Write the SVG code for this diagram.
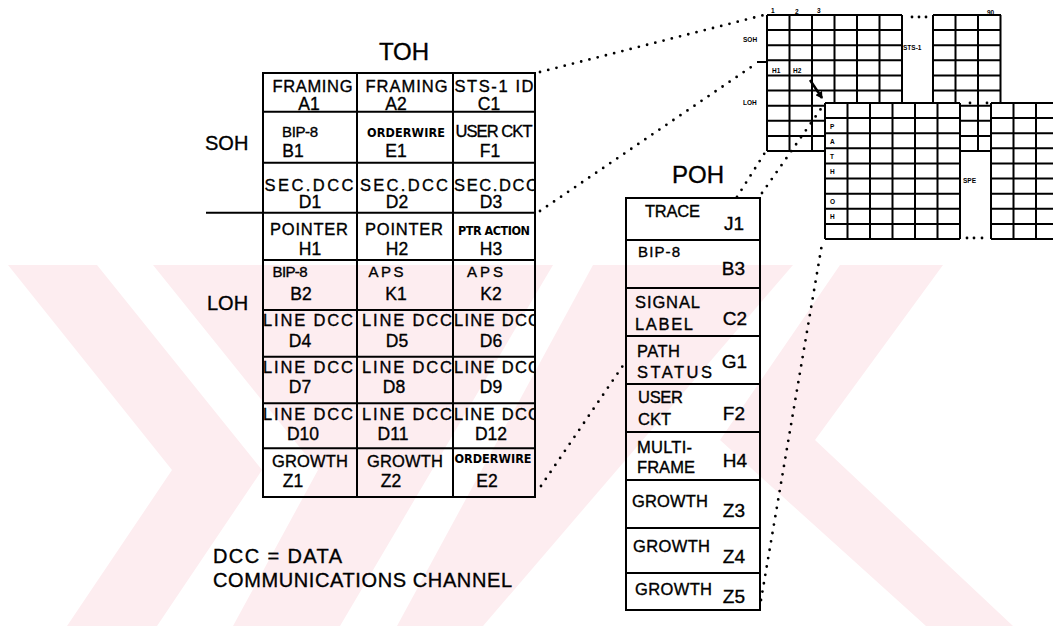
<svg xmlns="http://www.w3.org/2000/svg" xmlns:xlink="http://www.w3.org/1999/xlink" width="1053" height="626" viewBox="0 0 1053 626">
<defs>
<style>
.t{font-family:"Liberation Sans",Arial,sans-serif;fill:#000;stroke:#000;stroke-width:0.35}
.lb{font-size:16.5px}
.sm{font-size:15px}
.id{font-size:17.5px;text-anchor:middle}
.c{text-anchor:middle}
.e{text-anchor:end}
.pid{font-size:19px}
.cb{font-family:"DejaVu Sans Condensed","Liberation Sans",sans-serif;font-weight:bold;font-size:12.5px;text-anchor:middle;fill:#000}
.big{font-size:24px}
.mid{font-size:20px}
.grid{fill:none;stroke:#000;stroke-width:2}
.dot{fill:none;stroke:#000;stroke-width:2.8;stroke-linecap:round;stroke-dasharray:0 8.5}
.wm{fill:#fdedf0}
.mini{font-family:"Liberation Sans",Arial,sans-serif;font-weight:bold;font-size:6.5px;fill:#000}
</style>
<clipPath id="tohclip"><rect x="263" y="73" width="272" height="424"/></clipPath>
<g id="fr">
<rect x="0" y="0" width="135" height="136" fill="#fff"/>
<rect x="166" y="0" width="68" height="136" fill="#fff"/>
<path class="grid" d="M0 0H135M0 15.1H135M0 30.2H135M0 45.3H135M0 60.4H135M0 75.6H135M0 90.7H135M0 105.8H135M0 120.9H135M0 136H135M0 0V136M22.5 0V136M45 0V136M67.5 0V136M90 0V136M112.5 0V136M135 0V136M166 0H234M166 15.1H234M166 30.2H234M166 45.3H234M166 60.4H234M166 75.6H234M166 90.7H234M166 105.8H234M166 120.9H234M166 136H234M166 0V136M188.5 0V136M211 0V136M233.5 0V136"/>
</g>
<marker id="ah" markerWidth="8" markerHeight="8" refX="6" refY="4" orient="auto" markerUnits="userSpaceOnUse"><path d="M0 0L7 4L0 8Z" fill="#000"/></marker>
</defs>
<rect width="1053" height="626" fill="#fff"/>
<g id="watermark">
<polygon class="wm" points="8,265 97,265 262,470 157,626 67,626 172,470"/>
<polygon class="wm" points="153,265 553,265 340,626 233,626 318,470"/>
<polygon class="wm" points="397,626 483,626 793,265 593,265"/>
<polygon class="wm" points="840,265 943,265 815,440 1013,626 926,626 720,440"/>
</g>
<g id="mini">
<use xlink:href="#fr" x="767" y="15"/>
<circle cx="912" cy="17" r="1.4"/><circle cx="919" cy="17" r="1.4"/><circle cx="926" cy="17" r="1.4"/>
<text class="mini" x="903" y="50">STS-1</text>
<text class="mini" x="771" y="13">1</text>
<text class="mini" x="795" y="14">2</text>
<text class="mini" x="817" y="13">3</text>
<text class="mini" x="987" y="15">90</text>
<text class="mini" x="743" y="42">SOH</text>
<text class="mini" x="743" y="105">LOH</text>
<text class="mini" x="772" y="73">H1</text>
<text class="mini" x="793" y="73">H2</text>
<line x1="757" y1="62" x2="767" y2="62" stroke="#000" stroke-width="2"/>
<use xlink:href="#fr" x="825" y="103"/>
<line x1="810" y1="80" x2="822" y2="98" stroke="#000" stroke-width="2.5" marker-end="url(#ah)"/>
<text class="mini" x="830" y="129">P</text>
<text class="mini" x="830" y="144">A</text>
<text class="mini" x="830" y="159">T</text>
<text class="mini" x="830" y="174">H</text>
<text class="mini" x="830" y="204">O</text>
<text class="mini" x="830" y="219">H</text>
<text class="mini" x="963" y="183">SPE</text>
<circle cx="970" cy="103" r="1.4"/><circle cx="987" cy="103" r="1.4"/>
<circle cx="967" cy="238" r="1.4"/><circle cx="974" cy="238" r="1.4"/><circle cx="982" cy="238" r="1.4"/>
</g>
<g id="connectors">
<path class="dot" d="M540 72L764 15"/>
<path class="dot" d="M540 211L757 63"/>
<path class="dot" d="M541 486L624 364"/>
<path class="dot" d="M737 197L766 151"/>
<path class="dot" d="M762 193L825 103"/>
<path class="dot" d="M761 600L822 244"/>
</g>
<g id="labels">
<text class="t big c" x="404" y="60">TOH</text>
<text class="t mid" x="205" y="150">SOH</text>
<text class="t mid" x="207" y="310">LOH</text>
<line x1="206" y1="212.7" x2="263" y2="212.7" stroke="#000" stroke-width="2"/>
<text class="t big c" x="698" y="183">POH</text>
<text class="t mid" x="213" y="563" textLength="129">DCC = DATA</text>
<text class="t mid" x="213" y="587" textLength="299">COMMUNICATIONS CHANNEL</text>
</g>
<g id="toh">
<path class="grid" d="M263 73H535V497H263ZM357 73V497M453 73V497M263 111.7H535M263 162.7H535M263 212.7H535M263 260H535M263 310H535M263 356.7H535M263 403.3H535M263 448.3H535"/>
<g clip-path="url(#tohclip)">
<text class="t lb c" x="312.5" y="92" textLength="80">FRAMING</text>
<text class="t lb c" x="406.5" y="92" textLength="82">FRAMING</text>
<text class="t lb c" x="494" y="92" textLength="79">STS-1 ID</text>
<text class="t id" x="309" y="110">A1</text><text class="t id" x="396" y="110">A2</text><text class="t id" x="489" y="110">C1</text>
<text class="t sm c" x="300" y="137" textLength="36">BIP-8</text>
<text class="cb" x="406" y="137" textLength="78">ORDERWIRE</text>
<text class="t lb c" x="494" y="137" textLength="77">USER CKT</text>
<text class="t id" x="293" y="157">B1</text><text class="t id" x="396" y="157">E1</text><text class="t id" x="490" y="157">F1</text>
<text class="t lb c" x="309" y="191" textLength="89">SEC.DCC</text>
<text class="t lb c" x="404" y="191" textLength="88">SEC.DCC</text>
<text class="t lb c" x="496" y="191" textLength="84">SEC.DCC</text>
<text class="t id" x="310" y="208">D1</text><text class="t id" x="397" y="208">D2</text><text class="t id" x="491" y="208">D3</text>
<text class="t lb c" x="309" y="235" textLength="78">POINTER</text>
<text class="t lb c" x="404" y="235" textLength="78">POINTER</text>
<text class="cb" x="494" y="235" textLength="72">PTR ACTION</text>
<text class="t id" x="310" y="255">H1</text><text class="t id" x="397" y="255">H2</text><text class="t id" x="491" y="255">H3</text>
<text class="t sm c" x="290" y="277" textLength="35">BIP-8</text>
<text class="t sm c" x="386" y="277" textLength="35">APS</text>
<text class="t sm c" x="485" y="277" textLength="36">APS</text>
<text class="t id" x="301" y="300">B2</text><text class="t id" x="396" y="300">K1</text><text class="t id" x="491" y="300">K2</text>
<text class="t lb c" x="308" y="326" textLength="90">LINE DCC</text>
<text class="t lb c" x="407" y="326" textLength="90">LINE DCC</text>
<text class="t lb c" x="497" y="326" textLength="86">LINE DCC</text>
<text class="t id" x="300" y="347">D4</text><text class="t id" x="397" y="347">D5</text><text class="t id" x="491" y="347">D6</text>
<text class="t lb c" x="308" y="373" textLength="90">LINE DCC</text>
<text class="t lb c" x="407" y="373" textLength="90">LINE DCC</text>
<text class="t lb c" x="497" y="373" textLength="86">LINE DCC</text>
<text class="t id" x="300" y="393">D7</text><text class="t id" x="394" y="393">D8</text><text class="t id" x="491" y="393">D9</text>
<text class="t lb c" x="308" y="420" textLength="90">LINE DCC</text>
<text class="t lb c" x="407" y="420" textLength="90">LINE DCC</text>
<text class="t lb c" x="497" y="420" textLength="86">LINE DCC</text>
<text class="t id" x="303" y="440">D10</text><text class="t id" x="393" y="440">D11</text><text class="t id" x="491" y="440">D12</text>
<text class="t lb c" x="310" y="467" textLength="76">GROWTH</text>
<text class="t lb c" x="405" y="467" textLength="76">GROWTH</text>
<text class="cb" x="493" y="463" textLength="77">ORDERWIRE</text>
<text class="t id" x="293" y="487">Z1</text><text class="t id" x="391" y="487">Z2</text><text class="t id" x="487" y="487">E2</text>
</g>
</g>
<g id="poh">
<path class="grid" d="M626 198H760V610H626ZM626 240H760M626 288H760M626 336H760M626 384H760M626 432H760M626 480H760M626 528H760M626 573H760"/>
<text class="t lb" x="645" y="217" textLength="55">TRACE</text>
<text class="t pid e" x="744" y="230">J1</text>
<text class="t sm" x="638" y="257" textLength="42">BIP-8</text>
<text class="t pid e" x="745" y="275">B3</text>
<text class="t lb" x="635" y="308" textLength="65">SIGNAL</text>
<text class="t lb" x="635" y="330" textLength="58">LABEL</text>
<text class="t pid e" x="747" y="325">C2</text>
<text class="t lb" x="637" y="357" textLength="43">PATH</text>
<text class="t lb" x="637" y="378" textLength="75">STATUS</text>
<text class="t pid e" x="747" y="368">G1</text>
<text class="t lb" x="638" y="403" textLength="45">USER</text>
<text class="t lb" x="638" y="425" textLength="33">CKT</text>
<text class="t pid e" x="745" y="420">F2</text>
<text class="t lb" x="637" y="453" textLength="55">MULTI-</text>
<text class="t lb" x="637" y="473" textLength="58">FRAME</text>
<text class="t pid e" x="747" y="467">H4</text>
<text class="t lb" x="632" y="507" textLength="76">GROWTH</text>
<text class="t pid e" x="745" y="517">Z3</text>
<text class="t lb" x="633" y="552" textLength="77">GROWTH</text>
<text class="t pid e" x="745" y="563">Z4</text>
<text class="t lb" x="635" y="595" textLength="77">GROWTH</text>
<text class="t pid e" x="745" y="603">Z5</text>
</g>
</svg>
